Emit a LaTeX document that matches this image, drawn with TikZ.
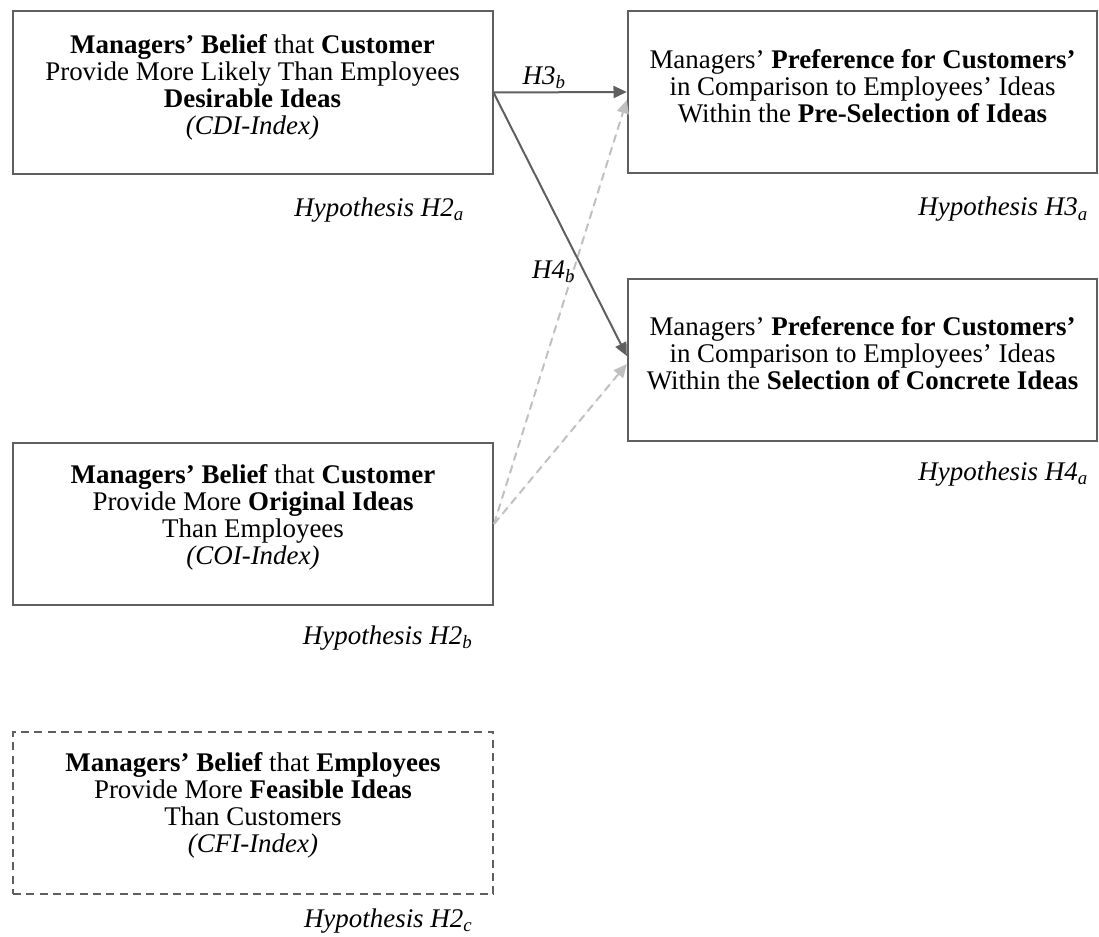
\documentclass[tikz,border=0pt]{standalone}
\usepackage{fontspec}
\setmainfont{Liberation Serif}
\usepackage{tikz}
\usetikzlibrary{arrows.meta,positioning}
\definecolor{boxcolor}{RGB}{95,95,95}
\definecolor{weakcolor}{RGB}{192,192,192}

\begin{document}
\begin{tikzpicture}[
    x=0.75pt, y=-0.75pt,
    every node/.style={font=\fontsize{20.2}{20.3}\selectfont},
    belief/.style={rectangle, draw=boxcolor, line width=1.5pt, minimum width=360pt, minimum height=122pt, inner sep=0pt},
    choice/.style={rectangle, draw=boxcolor, line width=1.5pt, minimum width=352pt, minimum height=122pt, inner sep=0pt},
    boxtext/.style={align=center, inner sep=0pt},
    hyp/.style={inner sep=0pt, font=\fontsize{20.2}{20.3}\selectfont\itshape},
    arrow/.style={-{Triangle[length=10pt, width=9pt]}, draw=boxcolor, fill=boxcolor, line width=1.5pt},
    weak/.style={-{Triangle[length=10pt, width=9pt]}, draw=weakcolor, fill=weakcolor, line width=1.5pt, dash pattern=on 6pt off 4pt}
]
    \useasboundingbox (0,0) rectangle (1099,937);

    % Beliefs of managers
    \node[belief] (cdi) at (252.5,92.5) {};
    \node[boxtext, below=18pt of cdi.north] (cditext) {\textbf{Managers’ Belief} that \textbf{Customer}\\Provide More Likely Than Employees\\\textbf{Desirable Ideas}\\\textit{(CDI-Index)}};
    \node[belief] (coi) at (253,524) {};
    \node[boxtext, below=17pt of coi.north] (coitext) {\textbf{Managers’ Belief} that \textbf{Customer}\\Provide More \textbf{Original Ideas}\\Than Employees\\\textit{(COI-Index)}};
    \node[belief, dash pattern=on 6pt off 4pt] (cfi) at (253,813) {};
    \node[boxtext, below=16pt of cfi.north] (cfitext) {\textbf{Managers’ Belief} that \textbf{Employees}\\Provide More \textbf{Feasible Ideas}\\Than Customers\\\textit{(CFI-Index)}};

    % Preferences of managers
    \node[choice] (presel) at (862.5,92) {};
    \node[boxtext, below=29.5pt of presel.north] (preseltext) {Managers’ \textbf{Preference for Customers’}\\in Comparison to Employees’ Ideas\\Within the \textbf{Pre-Selection of Ideas}};
    \node[choice] (sel) at (862.5,360) {};
    \node[boxtext, below=29pt of sel.north] (seltext) {Managers’ \textbf{Preference for Customers’}\\in Comparison to Employees’ Ideas\\Within the \textbf{Selection of Concrete Ideas}};

    % Hypotheses
    \node[hyp, below left=17pt and 22pt of cdi.south east] (h2a) {Hypothesis H2\textsubscript{a}};
    \node[hyp, below left=17pt and 7.5pt of presel.south east] (h3a) {Hypothesis H3\textsubscript{a}};
    \node[hyp, below left=14.5pt and 7.5pt of sel.south east] (h4a) {Hypothesis H4\textsubscript{a}};
    \node[hyp, below left=14.5pt and 16pt of coi.south east] (h2b) {Hypothesis H2\textsubscript{b}};
    \node[hyp, below left=10pt and 16pt of cfi.south east] (h2c) {Hypothesis H2\textsubscript{c}};

    \draw[weak] (coi.east) -- ([yshift=-6pt]presel.west);
    \draw[weak] (coi.east) -- ([yshift=-3pt]sel.west);
    \draw[arrow] (cdi.east) -- node[above=2pt, pos=0.38, hyp] {H3\textsubscript{b}} (presel.west);
    \draw[arrow] (cdi.east) -- node[left=6pt, pos=0.68, hyp] {H4\textsubscript{b}} ([yshift=3pt]sel.west);
\end{tikzpicture}
\end{document}
